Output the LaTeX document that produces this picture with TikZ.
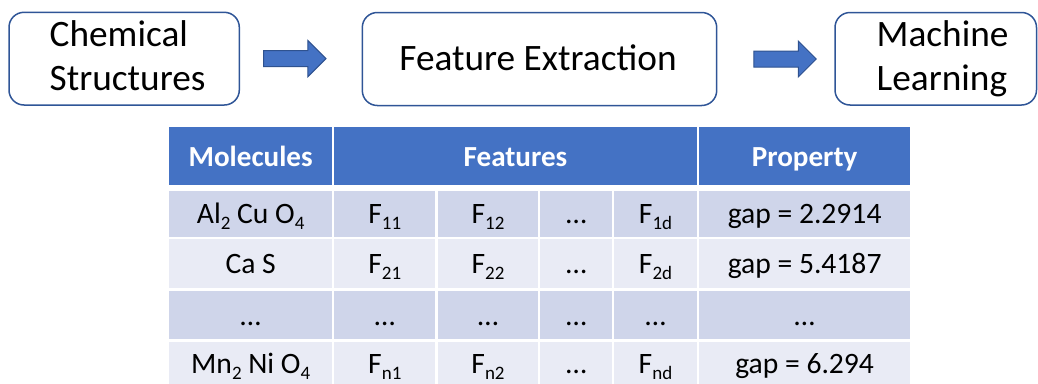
\documentclass[tikz,border=0pt]{standalone}
\usepackage{fontspec}
\setmainfont{Carlito}
\usetikzlibrary{calc}
\definecolor{hdr}{HTML}{4472C4}
\definecolor{rowd}{HTML}{CFD5EA}
\definecolor{rowl}{HTML}{E9EBF5}
\definecolor{boxline}{HTML}{2F5597}
\definecolor{arrline}{HTML}{2F528F}
\newcommand\sbs[1]{\raisebox{-6pt}{\fontsize{19}{19}\selectfont #1}}
\begin{document}
\begin{tikzpicture}[x=1pt,y=-1pt,
  box/.style={draw=boxline,line width=1.5pt,rounded corners=15pt,fill=white,inner sep=0pt},
  big/.style={inner sep=0pt,font=\fontsize{37.3}{44}\selectfont},
  blockarr/.style={fill=hdr,draw=arrline,line width=1pt},
  cell/.style={inner sep=0pt,text height=20pt,text depth=0pt,font=\fontsize{29.6}{34}\selectfont},
  hcell/.style={cell,fill=hdr,text=white,font=\fontsize{29.1}{34}\selectfont\bfseries,minimum height=57.4pt},
  c1/.style={minimum width=163.3pt},
  c2/.style={minimum width=101pt},
  c3/.style={minimum width=100.6pt},
  c4/.style={minimum width=72pt},
  c5/.style={minimum width=82.4pt},
  c6/.style={minimum width=210.7pt},
  r1/.style={cell,fill=rowd,minimum height=46pt},
  r2/.style={cell,fill=rowl,minimum height=49pt},
  r3/.style={cell,fill=rowd,minimum height=48pt},
  r4/.style={cell,fill=rowl,minimum height=48.3pt,text height=16pt}
]
\useasboundingbox (0,0) rectangle (1038,383);

% top flow boxes
\node[box,minimum width=230.3pt,minimum height=92.7pt] (chem) at (124.15,58.65) {};
\node[box,minimum width=354.4pt,minimum height=93pt] (feat) at (539.5,59) {};
\node[box,minimum width=201.5pt,minimum height=92.5pt] (ml) at (935.75,58.75) {};

\node[big,anchor=base west] (chemA) at (49.5,46.7) {Chemical};
\node[big,anchor=base west] (chemB) at (49.5,90.7) {Structures};
\node[big,anchor=base] (featT) at (538,70.7) {Feature Extraction};
\node[big,anchor=base west] (mlA) at (876.5,46.7) {Machine};
\node[big,anchor=base west] (mlB) at (876.5,90.3) {Learning};

% block arrows
\coordinate (a1s) at ($(chem.east)+(23.5,0)$);
\coordinate (a1e) at ($(feat.west)+(-35.6,0)$);
\coordinate (a2s) at ($(feat.east)+(36.3,0)$);
\coordinate (a2e) at ($(ml.west)+(-18,0)$);
\draw[blockarr] let \p1=(a1s), \p2=(a1e) in
  (\x1,\y1+8pt) -- (\x2-18pt,\y1+8pt) -- (\x2-18pt,\y1+18pt) -- (\x2,\y1)
  -- (\x2-18pt,\y1-18pt) -- (\x2-18pt,\y1-8pt) -- (\x1,\y1-8pt) -- cycle;
\draw[blockarr] let \p1=(a2s), \p2=(a2e) in
  (\x1,\y1+8pt) -- (\x2-18pt,\y1+8pt) -- (\x2-18pt,\y1+18pt) -- (\x2,\y1)
  -- (\x2-18pt,\y1-18pt) -- (\x2-18pt,\y1-8pt) -- (\x1,\y1-8pt) -- cycle;

% table header
\node[hcell,c1] (hm) at (250.65,156) {Molecules};
\node[hcell,minimum width=362.4pt] (hf) at (515.5,156) {Features};
\node[hcell,c6] (hp) at (804.65,156) {Property};

% row 1
\node[r1,c1] (m1) at (250.65,213.7) {Al\sbs{2} Cu O\sbs{4}};
\node[r1,c2] (f11) at (384.8,213.7) {F\sbs{11}};
\node[r1,c3] (f12) at (488,213.7) {F\sbs{12}};
\node[r1,c4] (f1x) at (576.3,213.7) {…};
\node[r1,c5] (f1d) at (655.5,213.7) {F\sbs{1d}};
\node[r1,c6] (p1) at (804.65,213.7) {gap = 2.2914};

% row 2
\node[r2,c1] (m2) at (250.65,263.8) {Ca S};
\node[r2,c2] (f21) at (384.8,263.8) {F\sbs{21}};
\node[r2,c3] (f22) at (488,263.8) {F\sbs{22}};
\node[r2,c4] (f2x) at (576.3,263.8) {…};
\node[r2,c5] (f2d) at (655.5,263.8) {F\sbs{2d}};
\node[r2,c6] (p2) at (804.65,263.8) {gap = 5.4187};

% row 3
\node[r3,c1] (m3) at (250.65,315) {…};
\node[r3,c2] (f31) at (384.8,315) {…};
\node[r3,c3] (f32) at (488,315) {…};
\node[r3,c4] (f3x) at (576.3,315) {…};
\node[r3,c5] (f3d) at (655.5,315) {…};
\node[r3,c6] (p3) at (804.65,315) {…};

% row 4
\node[r4,c1] (m4) at (250.65,365.85) {Mn\sbs{2} Ni O\sbs{4}};
\node[r4,c2] (fn1) at (384.8,365.85) {F\sbs{n1}};
\node[r4,c3] (fn2) at (488,365.85) {F\sbs{n2}};
\node[r4,c4] (fnx) at (576.3,365.85) {…};
\node[r4,c5] (fnd) at (655.5,365.85) {F\sbs{nd}};
\node[r4,c6] (p4) at (804.65,365.85) {gap = 6.294};
\end{tikzpicture}
\end{document}
